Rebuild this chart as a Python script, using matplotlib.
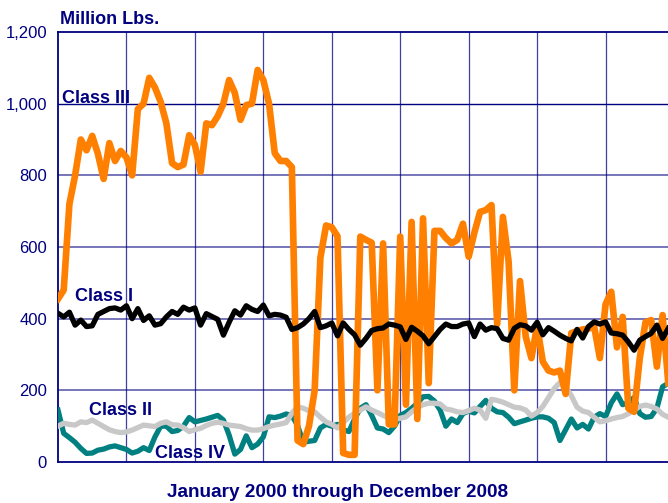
import numpy as np
import matplotlib.pyplot as plt

# monthly data, Jan 2000 .. Dec 2008 (million lbs)
class_iii = [455, 480, 720, 800, 900, 870, 910, 860, 790, 890, 840, 868,
             850, 800, 985, 1000, 1072, 1045, 1005, 945, 834, 823, 830, 912,
             885, 810, 945, 940, 965, 1000, 1066, 1030, 955, 996, 1000, 1094,
             1066, 1000, 862, 840, 840, 823, 60, 50, 100, 200, 570, 660,
             655, 630, 25, 20, 20, 629, 620, 612, 200, 610, 105, 105,
             629, 160, 670, 120, 680, 220, 645, 645, 625, 610, 620, 665,
             573, 640, 698, 703, 717, 385, 684, 560, 200, 505, 350, 290,
             380, 280, 255, 250, 255, 190, 360, 365, 370, 372, 378, 290,
             440, 475, 320, 405, 150, 140, 290, 390, 396, 266, 410, 220]
class_i = [415, 405, 418, 382, 396, 378, 380, 412, 420, 428, 430, 424,
           436, 400, 428, 395, 408, 382, 386, 405, 420, 412, 432, 424,
           430, 382, 414, 406, 398, 354, 390, 422, 410, 436, 426, 420,
           438, 408, 412, 410, 404, 370, 375, 385, 400, 420, 375, 380,
           388, 352, 388, 370, 355, 326, 345, 367, 372, 374, 385, 382,
           377, 342, 376, 365, 352, 330, 350, 370, 385, 378, 378, 385,
           388, 350, 385, 368, 375, 372, 345, 340, 373, 383, 380, 368,
           390, 355, 375, 365, 354, 345, 338, 370, 346, 378, 391, 385,
           391, 360, 358, 354, 335, 312, 340, 350, 359, 382, 345, 373]
class_ii = [100, 108, 105, 103, 112, 110, 117, 108, 99, 90, 85, 82,
            84, 89, 96, 103, 101, 99, 108, 112, 104, 103, 96, 85,
            90, 94, 102, 108, 111, 108, 103, 101, 99, 93, 89, 89,
            93, 99, 103, 106, 110, 136, 154, 150, 143, 140, 125, 112,
            105, 95, 110, 125, 136, 145, 154, 145, 138, 130, 123, 118,
            122, 126, 140, 152, 160, 164, 164, 162, 148, 145, 140, 138,
            143, 150, 145, 122, 175, 172, 167, 160, 153, 151, 145, 128,
            138, 155, 180, 205, 222, 210, 185, 153, 142, 138, 125, 112,
            115, 120, 124, 127, 135, 145, 155, 159, 155, 148, 133, 125]
class_iv = [145, 80, 68, 55, 38, 24, 25, 33, 36, 42, 45, 40,
            35, 25, 30, 40, 32, 70, 100, 100, 85, 88, 100, 124,
            112, 116, 120, 125, 130, 117, 75, 22, 35, 73, 40, 50,
            70, 126, 124, 128, 134, 130, 102, 55, 58, 60, 95, 105,
            100, 105, 90, 85, 120, 150, 160, 130, 95, 92, 82, 100,
            130, 138, 150, 164, 182, 183, 170, 145, 100, 120, 110, 135,
            142, 137, 155, 172, 150, 140, 138, 125, 107, 112, 117, 122,
            126, 126, 122, 110, 60, 90, 120, 95, 105, 92, 125, 135,
            127, 165, 190, 160, 165, 180, 135, 125, 127, 150, 210, 220]

yticks = [0, 200, 400, 600, 800, 1000, 1200]
ytick_labels = ['0', '200', '400', '600', '800', '1,000', '1,200']

navy = '#000080'
plt.rcParams['font.family'] = ['Liberation Sans', 'DejaVu Sans']

fig = plt.figure(figsize=(6.68, 5.03), dpi=100)
W, H = 668, 503
ax = fig.add_axes([58 / W, 1 - 462 / H, 616 / W, 430 / H])

months = np.arange(len(class_iii))

# grid
for yv in yticks[1:-1]:
    if yv == 1000:
        ax.axhline(yv, color=navy, lw=1.0, zorder=1)
    else:
        ax.axhline(yv, color='#6a6ab4', lw=1.3, zorder=1)
for xv in range(12, 108, 12):
    ax.axvline(xv, color=navy, lw=0.9, alpha=0.75, zorder=1)

ax.plot(months, class_iv, color='#008080', lw=3.8, solid_joinstyle='round', zorder=3)
ax.plot(months, class_ii, color='#C8C8C8', lw=3.8, solid_joinstyle='round', zorder=4)
ax.plot(months, class_iii, color='#FF8000', lw=4.8, solid_joinstyle='round', zorder=5)
ax.plot(months, class_i, color='black', lw=3.8, solid_joinstyle='round', zorder=6)

ax.set_xlim(0, 108)
ax.set_ylim(0, 1200)
ax.set_xticks([])
ax.set_yticks(yticks)
ax.set_yticklabels(ytick_labels)
ax.tick_params(axis='y', length=0, pad=8, labelsize=12, labelcolor=navy)
for s in ['left', 'bottom', 'top']:
    ax.spines[s].set_color(navy)
    ax.spines[s].set_linewidth(1.3)
ax.spines['right'].set_visible(False)

def label(x, y, s, size=13):
    fig.text(x / W, 1 - y / H, s, color=navy, fontsize=size,
             fontweight='bold', va='baseline', ha='left')

label(60, 24, 'Million Lbs.')
label(62, 103, 'Class III')
label(75, 301, 'Class I')
label(89, 415, 'Class II')
label(155, 458, 'Class IV')
fig.text(338 / W, 1 - 497 / H, 'January 2000 through December 2008', color=navy,
         fontsize=13.7, fontweight='bold', va='baseline', ha='center')

fig.savefig('out.png', dpi=100)
